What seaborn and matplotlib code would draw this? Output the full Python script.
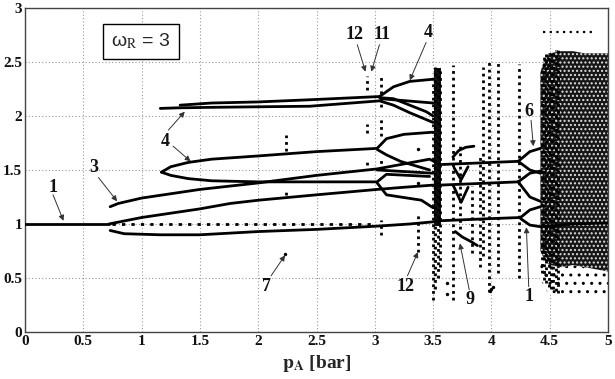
import matplotlib
matplotlib.use("Agg")
import matplotlib.pyplot as plt
import numpy as np
import pandas as pd
import seaborn as sns

# ---------------- data ----------------
# bifurcation branches (p_A, response)
b_p1_x = [0.0, 0.72];                 b_p1_y = [1.0, 1.0]
b3_low_x = [0.73, 0.85, 1.16, 1.5, 2.0, 2.5, 3.02, 3.3, 3.5, 3.56, 4.0, 4.25]
b3_low_y = [0.94, 0.91, 0.90, 0.90, 0.93, 0.95, 0.98, 1.0, 1.02, 1.03, 1.05, 1.06]
b3_mid_x = [0.72, 1.0, 1.5, 1.76, 2.0, 2.5, 3.02, 3.25, 3.5, 3.56, 4.23]
b3_mid_y = [1.0, 1.06, 1.14, 1.19, 1.22, 1.27, 1.32, 1.34, 1.36, 1.36, 1.39]
b3_up_x = [0.73, 0.8, 1.0, 1.5, 2.0, 2.5, 3.02, 3.22, 3.47, 3.56, 4.23]
b3_up_y = [1.16, 1.19, 1.24, 1.32, 1.38, 1.45, 1.51, 1.55, 1.60, 1.55, 1.58]
b4_a_x = [1.17, 1.25, 1.4, 1.6, 2.0, 2.5, 3.02, 3.10, 3.25, 3.5]
b4_a_y = [1.48, 1.53, 1.57, 1.60, 1.63, 1.67, 1.70, 1.79, 1.83, 1.85]
b4_b_x = [1.17, 1.25, 1.4, 1.6, 2.0, 2.5, 3.02, 3.10, 3.47]
b4_b_y = [1.48, 1.45, 1.42, 1.40, 1.39, 1.39, 1.39, 1.46, 1.44]
b4_c_x = [1.16, 1.3, 1.6, 2.0, 2.44, 3.04, 3.16, 3.30, 3.5]
b4_c_y = [2.07, 2.075, 2.08, 2.085, 2.09, 2.14, 2.10, 2.03, 1.94]
b4_d_x = [1.33, 1.6, 2.0, 2.44, 3.04, 3.16, 3.30, 3.5]
b4_d_y = [2.10, 2.12, 2.13, 2.15, 2.18, 2.27, 2.32, 2.34]
arm_t2_x = [3.04, 3.16, 3.44, 3.5];   arm_t2_y = [2.17, 2.16, 2.04, 2.0]
arm_t4_x = [3.05, 3.5];               arm_t4_y = [2.16, 2.12]
arm_s2_x = [3.02, 3.10, 3.22, 3.47];  arm_s2_y = [1.69, 1.64, 1.58, 1.50]
arm_r2_x = [3.02, 3.5];               arm_r2_y = [1.50, 1.47]
arm_q2_x = [3.02, 3.10, 3.40, 3.5];   arm_q2_y = [1.38, 1.27, 1.22, 1.15]
win_a_x = [3.67, 3.72, 3.78, 3.85];   win_a_y = [1.62, 1.68, 1.71, 1.72]
win_b_x = [3.68, 3.74, 3.80];         win_b_y = [1.52, 1.41, 1.53]
win_c_x = [3.68, 3.74, 3.80];         win_c_y = [1.34, 1.20, 1.34]
win_9_x = [3.69, 3.75, 3.82, 3.88];   win_9_y = [0.93, 0.88, 0.84, 0.80]
six_a_up_x = [4.23, 4.33, 4.42];      six_a_up_y = [1.58, 1.67, 1.70]
six_a_dn_x = [4.23, 4.33, 4.42];      six_a_dn_y = [1.58, 1.50, 1.47]
six_b_up_x = [4.23, 4.33, 4.42];      six_b_up_y = [1.39, 1.47, 1.49]
six_b_dn_x = [4.23, 4.33, 4.42];      six_b_dn_y = [1.39, 1.25, 1.21]
one_up_x = [4.25, 4.33, 4.42];        one_up_y = [1.06, 1.13, 1.16]
one_dn_x = [4.25, 4.33, 4.42, 4.7, 5.0]; one_dn_y = [1.05, 0.99, 0.975, 1.0, 1.01]

# unstable period-1 continuation (sparse dashed)
p1_dash_x = [0.75, 3.0];  p1_dash_y = [1.0, 1.0]

# vertical dotted strips: x, ymin, ymax
strip_x = [2.24, 2.24, 2.93, 2.93, 2.93, 3.05, 3.05, 3.05, 3.05, 3.37,
           3.50, 3.52, 3.54, 3.56, 3.67, 3.73, 3.83, 3.90, 3.93, 3.98,
           4.06, 4.24,
           4.43, 4.45, 4.47, 4.49, 4.51, 4.53, 4.55, 4.57]
strip_lo = [1.68, 1.27, 2.24, 1.84, 1.55, 2.08, 1.81, 1.50, 0.90, 0.74,
            0.30, 0.40, 0.50, 0.60, 0.30, 0.95, 0.73, 0.60, 0.70, 0.37,
            0.55, 0.50,
            0.55, 0.48, 0.45, 0.42, 0.40, 0.40, 0.38, 0.36]
strip_hi = [1.82, 1.31, 2.37, 1.93, 1.60, 2.38, 1.98, 1.62, 1.04, 1.10,
            2.40, 2.45, 2.47, 2.44, 2.47, 1.75, 1.35, 1.62, 2.45, 2.50,
            2.50, 2.48,
            2.45, 2.55, 2.57, 2.58, 2.60, 2.60, 2.61, 2.61]

# dense chaos bands
band1_x = [3.505, 3.565]; band1_top = [2.44, 2.44]; band1_bot = [0.98, 0.98]
chaos_x = [4.42, 4.46, 4.5, 4.6, 4.7, 4.8, 4.9, 5.0]
dark_top = [2.40, 2.55, 2.58, 2.60, 2.60, 2.58, 2.58, 2.58]
dark_bot = [0.75, 0.66, 0.62, 0.60, 0.62, 0.60, 0.58, 0.56]
sparse_bot = [0.50, 0.40, 0.35, 0.33, 0.32, 0.33, 0.34, 0.33]

# isolated points
iso_x = [2.23, 3.37, 3.37, 3.99, 4.00, 4.01, 3.62, 3.62]
iso_y = [0.72, 1.38, 1.69, 0.38, 0.40, 0.42, 0.45, 0.35]
top_row_x = [4.44, 4.86]; top_row_y = [2.78, 2.78]

# annotations
ann_text = ["1", "3", "4", "7", "12", "11", "4", "6", "12", "9", "1"]
ann_tx = [0.24, 0.59, 1.20, 2.07, 2.83, 3.06, 3.46, 4.32, 3.26, 3.82, 4.32]
ann_ty = [1.34, 1.52, 1.76, 0.42, 2.75, 2.75, 2.77, 2.04, 0.42, 0.30, 0.33]
arr_tail_x = [0.24, 0.63, 1.23, 1.27, 2.11, 2.85, 3.04, 3.44, 4.34, 3.28, 3.81, 4.32]
arr_tail_y = [1.27, 1.43, 1.87, 1.72, 0.52, 2.66, 2.66, 2.68, 1.96, 0.52, 0.39, 0.42]
arr_head_x = [0.33, 0.79, 1.37, 1.42, 2.23, 2.92, 2.97, 3.30, 4.36, 3.37, 3.73, 4.30]
arr_head_y = [1.03, 1.21, 2.04, 1.58, 0.71, 2.41, 2.41, 2.33, 1.72, 0.74, 0.82, 0.97]

x_ticks = [0, 0.5, 1, 1.5, 2, 2.5, 3, 3.5, 4, 4.5, 5]
x_tick_labels = ["0", "0.5", "1", "1.5", "2", "2.5", "3", "3.5", "4", "4.5", "5"]
y_ticks = [0, 0.5, 1, 1.5, 2, 2.5, 3]
y_tick_labels = ["0", "0.5", "1", "1.5", "2", "2.5", "3"]

# ---------------- figure ----------------
sns.set_theme(style="white")
plt.rcParams["font.family"] = ["Liberation Serif", "DejaVu Serif"]
plt.rcParams["mathtext.fontset"] = "stix"
plt.rcParams["hatch.linewidth"] = 1.0

fig = plt.figure(figsize=(6.15, 3.79), dpi=100)
ax = fig.add_axes([0.0407, 0.124, 0.9479, 0.855])

branches = {
    "p1": (b_p1_x, b_p1_y), "3low": (b3_low_x, b3_low_y), "3mid": (b3_mid_x, b3_mid_y),
    "3up": (b3_up_x, b3_up_y), "4a": (b4_a_x, b4_a_y), "4b": (b4_b_x, b4_b_y),
    "4c": (b4_c_x, b4_c_y), "4d": (b4_d_x, b4_d_y), "t2": (arm_t2_x, arm_t2_y),
    "t4": (arm_t4_x, arm_t4_y), "s2": (arm_s2_x, arm_s2_y), "r2": (arm_r2_x, arm_r2_y),
    "q2": (arm_q2_x, arm_q2_y), "wa": (win_a_x, win_a_y), "wb": (win_b_x, win_b_y),
    "wc": (win_c_x, win_c_y), "w9": (win_9_x, win_9_y),
    "6au": (six_a_up_x, six_a_up_y), "6ad": (six_a_dn_x, six_a_dn_y),
    "6bu": (six_b_up_x, six_b_up_y), "6bd": (six_b_dn_x, six_b_dn_y),
    "1u": (one_up_x, one_up_y), "1d": (one_dn_x, one_dn_y),
}
rows = []
for name, (xs, ys) in branches.items():
    for i, (xv, yv) in enumerate(zip(xs, ys)):
        rows.append({"branch": name, "order": i, "x": xv, "y": yv})
df = pd.DataFrame(rows)

# chaos fills
ax.fill_between(chaos_x, sparse_bot, dark_bot, facecolor="white", edgecolor="black",
                hatch="..", linewidth=0, zorder=1)
ax.fill_between(chaos_x, dark_bot, dark_top, facecolor="#161616", edgecolor="#e0e0e0",
                hatch="....", linewidth=0, zorder=2)
ax.fill_between(band1_x, band1_bot, band1_top, facecolor="#111111", linewidth=0, zorder=2)

ax.vlines(strip_x, strip_lo, strip_hi, colors="black", linewidth=2.0,
          linestyles=(0, (1.0, 1.4)), zorder=3)

sns.lineplot(data=df, x="x", y="y", units="branch", estimator=None, sort=False,
             color="black", linewidth=2.0, ax=ax, legend=False, zorder=4)
ax.plot(p1_dash_x, p1_dash_y, color="black", linewidth=2.0,
        linestyle=(0, (1.2, 2.2)), zorder=4)
ax.plot(top_row_x, top_row_y, color="black", linewidth=1.6,
        linestyle=(0, (1.0, 2.0)), zorder=4)
sns.scatterplot(x=iso_x, y=iso_y, color="black", s=6, linewidth=0, ax=ax, zorder=5)

# arrows and labels
for tx, ty, hx, hy in zip(arr_tail_x, arr_tail_y, arr_head_x, arr_head_y):
    ax.annotate("", xy=(hx, hy), xytext=(tx, ty),
                arrowprops=dict(arrowstyle="-|>", color="#333333", lw=0.7,
                                mutation_scale=8, shrinkA=0, shrinkB=0), zorder=6)
for t, x, y in zip(ann_text, ann_tx, ann_ty):
    ax.text(x, y, t, ha="center", va="center", fontsize=13, fontweight="bold",
            color="#111111", zorder=7)

ax.text(0.995, 2.69, "ω$_\\mathrm{R}$ = 3", ha="center", va="center", fontsize=14,
        family=["Liberation Sans", "DejaVu Sans"], zorder=8,
        bbox=dict(boxstyle="square,pad=0.4", facecolor="white", edgecolor="black", lw=1.0))

ax.set_xlim(0, 5)
ax.set_ylim(0, 3)
ax.set_xticks(x_ticks)
ax.set_xticklabels(x_tick_labels)
ax.set_yticks(y_ticks)
ax.set_yticklabels(y_tick_labels)
for lab in ax.get_xticklabels() + ax.get_yticklabels():
    lab.set_fontweight("bold")
    lab.set_fontsize(11)
ax.tick_params(direction="in", length=3, width=0.8, pad=2, colors="#111111")
ax.grid(True, linestyle=(0, (1, 2)), color="#999999", linewidth=0.8)
ax.set_axisbelow(True)
for s in ax.spines.values():
    s.set_color("#444444")
    s.set_linewidth(1.0)
ax.set_xlabel(r"$\mathbf{p_A}$ [bar]", fontsize=14, fontweight="bold", labelpad=4)
ax.set_ylabel("")

fig.savefig("out.png", dpi=100)
